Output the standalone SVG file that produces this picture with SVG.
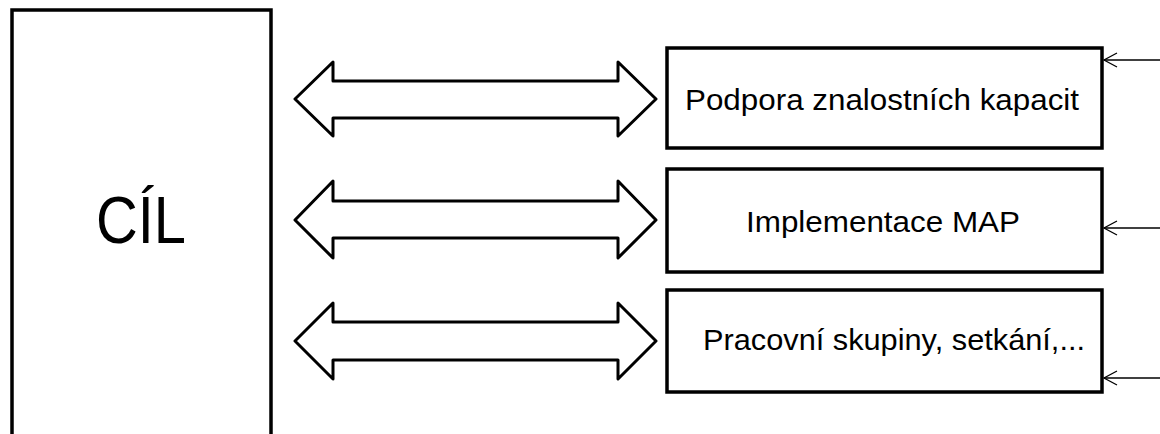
<svg xmlns="http://www.w3.org/2000/svg" width="1160" height="434" viewBox="0 0 1160 434">
<defs>
<style>
.box{fill:#fff;stroke:#000;stroke-width:3.5}
.dbl{fill:#fff;stroke:#000;stroke-width:3;stroke-linejoin:round}
.in{fill:none;stroke:#000;stroke-width:1.3}
.lbl{font-family:"Liberation Sans",Arial,sans-serif;font-size:30px;fill:#000;text-anchor:middle}
.big{font-family:"Liberation Sans",Arial,sans-serif;font-size:66px;fill:#000;text-anchor:middle}
</style>
<marker id="open" markerWidth="16" markerHeight="16" refX="14" refY="8" orient="auto" markerUnits="userSpaceOnUse">
<path d="M1,1 L14,8 L1,15" fill="none" stroke="#000" stroke-width="1.3"/>
</marker>
</defs>
<rect width="1160" height="434" fill="#fff"/>
<g id="cil">
<rect class="box" x="12" y="10" width="259" height="440"/>
<text class="big" x="141" y="243" textLength="90" lengthAdjust="spacingAndGlyphs">CÍL</text>
</g>
<g id="podpora">
<rect class="box" x="667" y="48" width="435" height="100"/>
<text class="lbl" x="882" y="110" textLength="394" lengthAdjust="spacingAndGlyphs">Podpora znalostních kapacit</text>
</g>
<g id="implementace">
<rect class="box" x="667" y="169" width="435" height="103"/>
<text class="lbl" x="883" y="232" textLength="274" lengthAdjust="spacingAndGlyphs">Implementace MAP</text>
</g>
<g id="pracovni">
<rect class="box" x="667" y="290" width="435" height="102"/>
<text class="lbl" x="894" y="350" textLength="382" lengthAdjust="spacingAndGlyphs">Pracovní skupiny, setkání,...</text>
</g>
<g id="connectors">
<path class="dbl" d="M295,99 L333,62 L333,81 L618,81 L618,62 L656,99 L618,136 L618,118 L333,118 L333,136 Z"/>
<path class="dbl" d="M295,220 L333,181 L333,201 L618,201 L618,181 L656,220 L618,258 L618,238 L333,238 L333,258 Z"/>
<path class="dbl" d="M295,341 L333,303 L333,322 L618,322 L618,303 L656,341 L618,379 L618,360 L333,360 L333,379 Z"/>
<line class="in" x1="1160" y1="60" x2="1104" y2="60" marker-end="url(#open)"/>
<line class="in" x1="1160" y1="228" x2="1104" y2="228" marker-end="url(#open)"/>
<line class="in" x1="1160" y1="378" x2="1104" y2="378" marker-end="url(#open)"/>
</g>
</svg>
